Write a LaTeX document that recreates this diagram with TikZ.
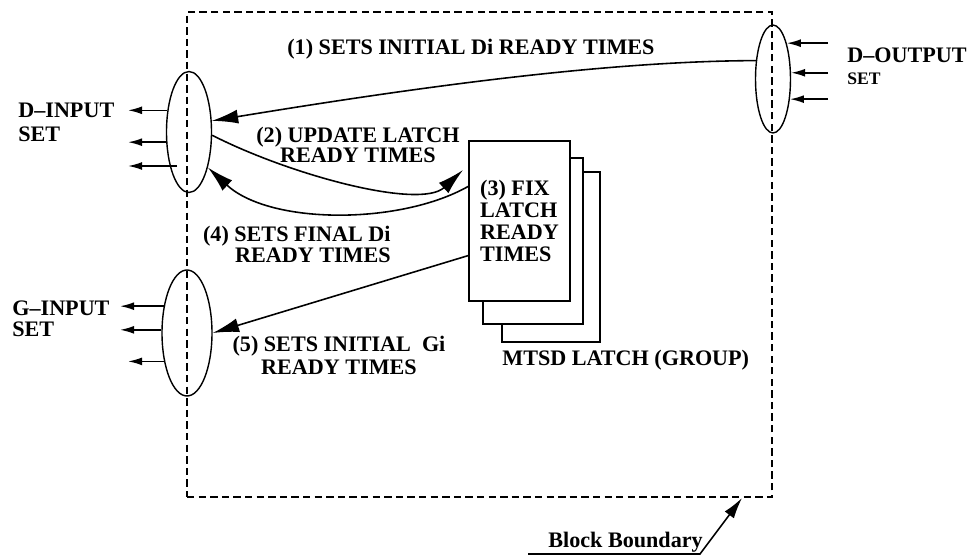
\documentclass[tikz,border=0pt]{standalone}
\usepackage{fontspec}
\setmainfont{Liberation Serif}
\usetikzlibrary{arrows.meta,shapes.geometric,calc}
\begin{document}
\begin{tikzpicture}[x=0.02cm,y=-0.02cm,
  lbl/.style={font=\fontsize{12.6}{12.5}\selectfont\bfseries, inner sep=0pt},
  conn/.style={line width=0.9pt},
  big/.style={conn, -{Latex[length=15pt,width=8pt]}},
  sarrow/.style={line width=0.9pt, -{Latex[length=8pt,width=4.5pt]}},
  setell/.style={draw, ellipse, line width=0.8pt, inner sep=0pt},
  latchbox/.style={draw, fill=white, line width=0.9pt, inner sep=0pt},
  boundary/.style={draw, line width=1pt, dash pattern=on 4.2pt off 2.4pt, inner sep=0pt}]
\useasboundingbox (0,0) rectangle (968,560);

% block boundary
\node[boundary, minimum width=11.7cm, minimum height=9.7cm] (blk) at (479.5,254.5) {};

% ellipses (sets)
\node[setell, minimum width=0.9cm, minimum height=2.42cm] (din) at (189,132) {};
\node[setell, minimum width=0.7cm, minimum height=2.16cm] (dout) at (773,79) {};
\node[setell, minimum width=1.0cm, minimum height=2.52cm] (gin) at (187,333) {};

% latch group boxes
\node[latchbox, minimum width=1.96cm, minimum height=3.4cm] (latch3) at (551,257) {};
\node[latchbox, minimum width=2.0cm, minimum height=3.32cm] (latch2) at (533,241) {};
\node[latchbox, minimum width=2.02cm, minimum height=3.2cm, align=left,
      font=\fontsize{12.6}{12.5}\selectfont\bfseries] (latch) at (519.5,221)
      {(3) FIX\\LATCH\\READY\\TIMES};

% labels (multi-line nodes: base = baseline of last line)
\node[lbl, font=\fontsize{12.6}{13.7}\selectfont\bfseries, align=left, anchor=base west] (dinl) at (18,142) {D–INPUT\\SET};
\node[lbl, align=left, anchor=base west] (ginl) at (12,337) {G–INPUT\\SET};
\node[lbl, anchor=base west] (doutl) at (847,63) {D–OUTPUT};
\node[font=\fontsize{10}{12}\selectfont\bfseries, inner sep=0pt, anchor=base west] (douts) at (847,85) {SET};
\node[lbl, anchor=base west] (l1) at (287,55) {(1) SETS INITIAL Di READY TIMES};
\node[lbl, font=\fontsize{12.6}{11.4}\selectfont\bfseries, align=center, anchor=base] (l2) at (358,163) {(2) UPDATE LATCH\\READY TIMES};
\node[lbl, align=right, anchor=base east] (l4) at (391,263) {(4) SETS FINAL Di\\READY TIMES};
\node[lbl, font=\fontsize{12.6}{13.1}\selectfont\bfseries, align=center, anchor=base] (l5) at (339,375) {(5) SETS INITIAL\ \ Gi\\READY TIMES};
\node[lbl, anchor=base west] (mtsd) at (502,366) {MTSD LATCH (GROUP)};
\node[lbl, anchor=base west] (bbtext) at (548,548) {Block Boundary};

% helper coordinates
\coordinate (inL) at (128,0);
\coordinate (gL) at (120,0);
\coordinate (gL3) at (128,0);
\coordinate (oR) at (828,0);
\coordinate (c2) at (463,170);
\coordinate (bbL) at (528,554);
\coordinate (bbR) at (700,554);
\coordinate (bbtip) at (742,498);

% set fan-out arrows
\draw[sarrow] (din.135) -- (din.135 -| inL);
\draw[sarrow] (din.204) -- (din.204 -| inL);
\draw[sarrow] ($(din.center)+(-12,34)$) coordinate (d3) -- (d3 -| inL);
\draw[sarrow] (gin.131) -- (gin.131 -| gL);
\draw[sarrow] (gin.173) -- (gin.173 -| gL);
\draw[sarrow] (gin.231) -- (gin.231 -| gL3);
\draw[sarrow] (dout.69 -| oR) -- (dout.69);
\draw[sarrow] (dout.19 -| oR) -- (dout.19);
\draw[sarrow] (dout.-50 -| oR) -- (dout.-50);

% main connectors
\draw[big] (dout.133) .. controls (600,61) and (400,90) .. (din.26);
\draw[big] (din.-8) .. controls (290,175) and (420,210) .. (c2);
\draw[big] (latch.146) .. controls (400,225) and (270,225) .. (din.-62);
\draw[big] (latch.214) -- (gin.east);

% block boundary pointer
\draw[conn, -{Latex[length=12pt,width=6.5pt]}] (bbL) -- (bbR) -- (bbtip);
\end{tikzpicture}
\end{document}
